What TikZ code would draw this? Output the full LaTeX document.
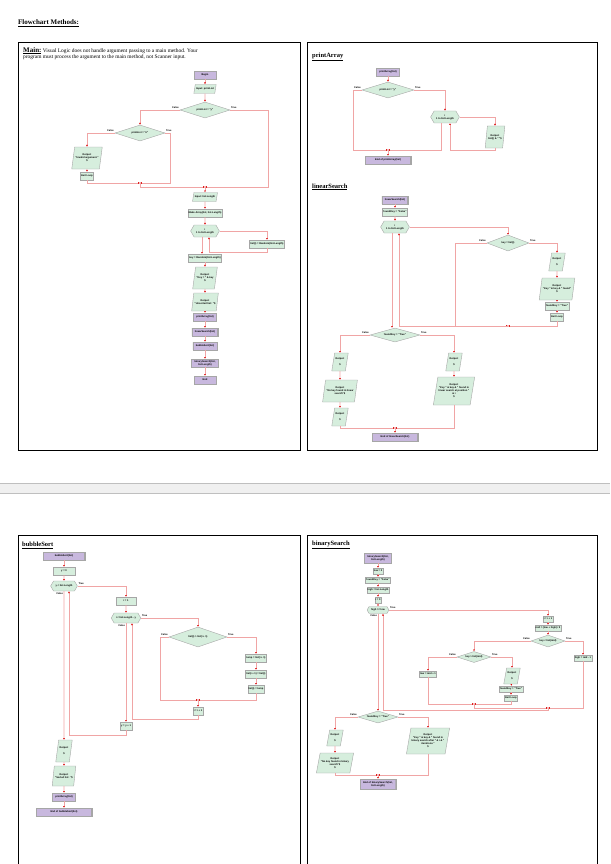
\documentclass[tikz,border=0pt]{standalone}
\usepackage{fontspec}
\setmainfont{Liberation Serif}
\newfontfamily\vlfont{Liberation Sans}
\usetikzlibrary{shapes.geometric,shapes.symbols,arrows.meta}
\definecolor{vlgreen}{RGB}{214,238,221}
\definecolor{vlpurple}{RGB}{200,184,222}
\definecolor{vlred}{RGB}{240,165,165}
\newcommand{\vlsize}{\vlfont\bfseries\fontsize{2.5}{3}\selectfont}

\tikzset{
  blk/.style={draw=black!35, fill=vlgreen, font=\vlsize, inner sep=0.8pt,
    align=center, minimum height=8pt},
  proc/.style={blk, rectangle},
  term/.style={blk, rectangle, fill=vlpurple, minimum width=22pt},
  sub/.style={blk, rectangle, fill=vlpurple, inner xsep=3pt,
    path picture={
      \draw[line width=1.3pt] (path picture bounding box.north west) -- (path picture bounding box.south west);
      \draw[line width=1.3pt] (path picture bounding box.north east) -- (path picture bounding box.south east);}},
  io/.style={blk, trapezium, trapezium left angle=75, trapezium right angle=105,
    trapezium stretches=true, minimum height=18pt, inner ysep=1.5pt},
  dec/.style={blk, diamond, aspect=3.2, inner sep=0pt, minimum width=50pt, minimum height=16pt},
  loop/.style={blk, signal, signal to=west and east, signal pointer angle=120,
    inner xsep=2pt, minimum height=12pt},
  flow/.style={draw=vlred, line width=0.8pt, -{Latex[length=1.8pt,width=1.8pt,color=red!85!black]}},
  tf/.style={font=\vlsize, inner sep=0.6pt},
  box/.style={draw=black, line width=0.8pt},
  head/.style={anchor=west, font=\bfseries\fontsize{6.5}{7}\selectfont, inner sep=0pt}
}

\begin{document}
\begin{tikzpicture}[x=1pt,y=-1pt]
\useasboundingbox (0,0) rectangle (610,864);

% page frame
\node[anchor=west, inner sep=0pt, font=\bfseries\fontsize{7}{8}\selectfont] (title) at (18,23) {\underline{Flowchart Methods:}};
\draw[box] (18,42) rectangle (300,450);
\draw[box] (307,42) rectangle (597,450);
\fill[gray!12] (0,483) rectangle (610,493);
\draw[gray!50, line width=0.6pt] (0,483) -- (610,483) (0,493) -- (610,493);
\draw[box] (18,535) rectangle (300,866);
\draw[box] (307,535) rectangle (597,866);

% Main
\node[anchor=north west, inner sep=0pt, align=left, font=\fontsize{5.4}{6.4}\selectfont] (mText) at (23,47)
  {{\fontsize{7}{7}\selectfont\bfseries\underline{Main:}} Visual Logic does not handle argument passing to a main method. Your\\program must process the argument to the main method, not Scanner input.};
\node[term] (mBegin) at (205,75) {Begin};
\node[io, minimum height=9pt] (mIn) at (205,89) {Input: printList};
\node[dec] (mD1) at (205,110) {printList = "y"};
\node[dec] (mD2) at (140,133) {printList = "n"};
\node[io, minimum height=22pt] (mOut) at (87,158) {Output:\\"Invalid argument."\\\$};
\node[proc] (mExit) at (87,176) {Exit Loop};
\coordinate (mM2) at (140,183);
\coordinate (mR2) at (170,183);
\coordinate (mM1) at (205,187);
\coordinate (mR1) at (268,187);
\node[io, minimum height=9pt] (mInLen) at (205,197) {Input: list.Length};
\node[proc] (mMake) at (205,213) {Make Array(list, list.Length)};
\node[loop] (mFor) at (205,231) {i\\1 to list.Length};
\node[proc] (mRand) at (267,244) {list(i) = Random(list.Length)};
\coordinate (mRet) at (209,252);
\node[proc] (mKey) at (205,258) {key = Random(list.Length)};
\node[io, minimum height=22pt] (mOutKey) at (205,278) {Output:\\"Key = " \& key\\\$};
\node[io] (mOutUns) at (205,302) {Output:\\"Unsorted list: "\$};
\node[sub] (mPA) at (205,317) {printArray(list)};
\node[sub] (mLS) at (205,332) {linearSearch(list)};
\node[sub] (mBS) at (205,346) {bubbleSort(list)};
\node[sub] (mBin) at (205,363) {binarySearch(list,\\list.Length)};
\node[term] (mEnd) at (205,380) {End};

\draw[flow] (mBegin) -- (mIn);
\draw[flow] (mIn) -- (mD1);
\draw[flow] (mD1.west) node[tf, above left] {False} -| (mD2.north);
\draw[flow] (mD1.east) node[tf, above right] {True} -| (mR1) -- (mM1);
\draw[flow] (mD2.west) node[tf, above left] {False} -| (mOut.north);
\draw[flow] (mD2.east) node[tf, above right] {True} -| (mR2) -- (mM2);
\draw[flow] (mOut) -- (mExit);
\draw[flow] (mExit.south) |- (mM2);
\draw[flow] (mM2) |- (mM1);
\draw[flow] (mM1) -- (mInLen);
\draw[flow] (mInLen) -- (mMake);
\draw[flow] (mMake) -- (mFor);
\draw[flow] (mFor.east) -| (mRand.north);
\draw[flow] (mRand.south) |- (mRet) -- (mRet |- mFor.south);
\draw[flow] ([xshift=-3pt]mFor.south) -- ([xshift=-3pt]mKey.north);
\draw[flow] (mKey) -- (mOutKey);
\draw[flow] (mOutKey) -- (mOutUns);
\draw[flow] (mOutUns) -- (mPA);
\draw[flow] (mPA) -- (mLS);
\draw[flow] (mLS) -- (mBS);
\draw[flow] (mBS) -- (mBin);
\draw[flow] (mBin) -- (mEnd);

% printArray
\node[head] (pHead) at (312,57) {\underline{printArray}};
\node[sub] (pStart) at (388,72) {printArray(list)};
\node[dec, minimum width=52pt] (pD) at (388,90) {printList = "y"};
\node[loop] (pFor) at (445,117) {i\\1 to list.Length};
\node[io, minimum height=22pt] (pOut) at (495,137) {Output:\\list(i) \& " "\$};
\coordinate (pL) at (353,150);
\coordinate (pM) at (388,150);
\coordinate (pRet) at (450,150);
\node[sub, minimum width=46pt] (pEnd) at (388,160) {End of printArray(list)};

\draw[flow] (pStart) -- (pD);
\draw[flow] (pD.west) node[tf, above left] {False} -| (pL) -- (pM);
\draw[flow] (pD.east) node[tf, above right] {True} -| (pFor.north);
\draw[flow] (pFor.east) -| (pOut.north);
\draw[flow] (pOut.south) |- (pRet) -- (pRet |- pFor.south);
\draw[flow] ([xshift=-4pt]pFor.south) |- (pM);
\draw[flow] (pM) -- (pEnd);

% linearSearch
\node[head] (lHead) at (312,187) {\underline{linearSearch}};
\node[sub] (lStart) at (395,200) {linearSearch(list)};
\node[proc] (lF) at (395,212) {foundKey = "False"};
\node[loop] (lFor) at (395,227) {i\\1 to list.Length};
\node[dec, minimum width=42pt] (lD) at (508,243) {key = list(i)};
\node[io] (lO1) at (557,262) {Output:\\ \\\$};
\node[io, minimum height=22pt] (lO2) at (557,289) {Output:\\"Key " \& key \& " found"\\\$};
\node[proc] (lT) at (557,306) {foundKey = "True"};
\node[proc] (lX) at (557,317) {Exit Loop};
\coordinate (lL) at (455,326);
\coordinate (lM) at (508,326);
\coordinate (lRet) at (399,326);
\node[dec, minimum width=50pt, minimum height=14pt] (lD2) at (395,335) {foundKey = "True"};
\node[io] (lN1) at (340,362) {Output:\\ \\\$};
\node[io, minimum height=22pt] (lN2) at (340,391) {Output:\\"No key found in linear\\search"\$};
\node[io] (lN3) at (340,417) {Output:\\ \\\$};
\node[io] (lY1) at (454,362) {Output:\\ \\\$};
\node[io, minimum height=28pt] (lY2) at (454,391) {Output:\\"Key " \& key \& " found in\\linear search at position "\\\& i\\\$};
\coordinate (lM2) at (395,428);
\node[sub, minimum width=46pt] (lEnd) at (395,437) {End of linearSearch(list)};

\draw[flow] (lStart) -- (lF);
\draw[flow] (lF) -- (lFor);
\draw[flow] (lFor.east) -| (lD.north);
\draw[flow] (lD.west) node[tf, above left] {False} -| (lL) -- (lM);
\draw[flow] (lD.east) node[tf, above right] {True} -| (lO1.north);
\draw[flow] (lO1) -- (lO2);
\draw[flow] (lO2) -- (lT);
\draw[flow] (lT) -- (lX);
\draw[flow] (lX.south) |- (lM);
\draw[flow] (lM) -- (lRet) -- (lRet |- lFor.south);
\draw[flow] ([xshift=-3pt]lFor.south) -- ([xshift=-3pt]lD2.north);
\draw[flow] (lD2.west) node[tf, above left] {False} -| (lN1.north);
\draw[flow] (lD2.east) node[tf, above right] {True} -| (lY1.north);
\draw[flow] (lN1) -- (lN2);
\draw[flow] (lN2) -- (lN3);
\draw[flow] (lY1) -- (lY2);
\draw[flow] (lN3.south) |- (lM2);
\draw[flow] (lY2.south) |- (lM2);
\draw[flow] (lM2) -- (lEnd);

% bubbleSort
\node[head] (bHead) at (22,545) {\underline{bubbleSort}};
\node[sub, minimum width=42pt] (bStart) at (64,556) {bubbleSort(list)};
\node[proc, minimum width=22pt] (bY0) at (64,571) {y = 0};
\node[loop, minimum height=10pt] (bFor1) at (64,586) {y < list.Length};
\node[proc, minimum width=20pt] (bI1) at (126,601) {i = 1};
\node[loop, minimum height=10pt] (bFor2) at (126,618) {i < list.Length - y};
\node[dec, minimum width=58pt, minimum height=20pt] (bD) at (198,637) {list(i) > list(i + 1)};
\node[proc] (bT1) at (256,658) {temp = list(i + 1)};
\node[proc] (bT2) at (256,674) {list(i + 1) = list(i)};
\node[proc] (bT3) at (256,689) {list(i) = temp};
\coordinate (bL) at (160,700);
\coordinate (bM) at (198,700);
\node[proc] (bInc) at (198,711) {i = i + 1};
\coordinate (bRet2) at (132,719);
\node[proc] (bYInc) at (126,726) {y = y + 1};
\coordinate (bRet1) at (69,735);
\node[io, minimum height=22pt] (bO1) at (64,751) {Output:\\ \\\$};
\node[io, minimum height=20pt] (bO2) at (64,776) {Output:\\"Sorted list: "\$};
\node[sub] (bPA) at (64,797) {printArray(list)};
\node[sub, minimum width=56pt] (bEnd) at (64,812) {End of bubbleSort(list)};

\draw[flow] (bStart) -- (bY0);
\draw[flow] (bY0) -- (bFor1);
\draw[flow] (bFor1.east) node[tf, above right] {True} -| (bI1.north);
\draw[flow] (bFor1.south) node[tf, below left] {False} -- (bO1.north);
\draw[flow] (bI1) -- (bFor2);
\draw[flow] (bFor2.east) node[tf, above right] {True} -| (bD.north);
\draw[flow] (bFor2.south) node[tf, below left] {False} -- (bYInc.north);
\draw[flow] (bD.west) node[tf, above left] {False} -| (bL) -- (bM);
\draw[flow] (bD.east) node[tf, above right] {True} -| (bT1.north);
\draw[flow] (bT1) -- (bT2);
\draw[flow] (bT2) -- (bT3);
\draw[flow] (bT3.south) |- (bM);
\draw[flow] (bM) -- (bInc);
\draw[flow] (bInc.south) |- (bRet2) -- (bRet2 |- bFor2.south);
\draw[flow] (bYInc.south) |- (bRet1) -- (bRet1 |- bFor1.south);
\draw[flow] (bO1) -- (bO2);
\draw[flow] (bO2) -- (bPA);
\draw[flow] (bPA) -- (bEnd);

% binarySearch
\node[head] (sHead) at (312,545) {\underline{binarySearch}};
\node[sub, minimum height=10pt] (sStart) at (378,558) {binarySearch(list,\\list.Length)};
\node[proc, minimum height=6pt] (sLow) at (378,571) {low = 0};
\node[proc, minimum height=6pt] (sF) at (378,580) {foundKey = "False"};
\node[proc, minimum height=6pt] (sHigh) at (378,590) {high = list.Length};
\node[proc, minimum height=6pt] (sI) at (378,600) {i = 0};
\node[loop, minimum height=7pt] (sWh) at (378,610) {high >= low};
\node[proc, minimum height=6pt] (sInc) at (548,619) {i = i + 1};
\node[proc, minimum height=6pt] (sMid) at (548,628) {mid = (low + high) / 2};
\node[dec, minimum width=34pt, minimum height=12pt] (sD1) at (548,641) {key < list(mid)};
\node[dec, minimum width=34pt, minimum height=11pt] (sD2) at (474,657) {key > list(mid)};
\node[proc, minimum height=6pt] (sHi) at (583,658) {high = mid - 1};
\node[proc, minimum height=6pt] (sLo) at (428,674) {low = mid + 1};
\node[io, minimum height=16pt] (sO) at (512,676) {Output:\\ \\\$};
\node[proc, minimum height=6pt] (sT) at (511,689) {foundKey = "True"};
\node[proc, minimum height=6pt] (sX) at (511,698) {Exit Loop};
\coordinate (sM2) at (474,704);
\coordinate (sM1) at (548,708);
\coordinate (sRet) at (383,710);
\node[dec, minimum width=40pt, minimum height=12pt] (sD3) at (378,717) {foundKey = "True"};
\node[io, minimum height=16pt] (sN1) at (335,738) {Output:\\ \\\$};
\node[io, minimum height=20pt] (sN2) at (335,763) {Output:\\"No key found in binary\\search"\$\\\$};
\node[io, minimum height=26pt] (sY) at (428,741) {Output:\\"Key " \& key \& " found in\\binary search after " \& i \& "\\iterations."\\\$};
\coordinate (sM3) at (378,775);
\node[sub, minimum height=10pt] (sEnd) at (378,784) {End of binarySearch(list,\\list.Length)};

\draw[flow] (sStart) -- (sLow);
\draw[flow] (sLow) -- (sF);
\draw[flow] (sF) -- (sHigh);
\draw[flow] (sHigh) -- (sI);
\draw[flow] (sI) -- (sWh);
\draw[flow] (sWh.east) node[tf, above right] {True} -| (sInc.north);
\draw[flow] (sInc) -- (sMid);
\draw[flow] (sMid) -- (sD1);
\draw[flow] (sD1.west) node[tf, above left] {False} -| (sD2.north);
\draw[flow] (sD1.east) node[tf, above right] {True} -| (sHi.north);
\draw[flow] (sD2.west) node[tf, above left] {False} -| (sLo.north);
\draw[flow] (sD2.east) node[tf, above right] {True} -| (sO.north);
\draw[flow] (sO) -- (sT);
\draw[flow] (sT) -- (sX);
\draw[flow] (sLo.south) |- (sM2);
\draw[flow] (sX.south) |- (sM2);
\draw[flow] (sM2) |- (sM1);
\draw[flow] (sHi.south) |- (sM1);
\draw[flow] (sM1) |- (sRet) -- (sRet |- sWh.south);
\draw[flow] (sWh.south) node[tf, below left] {False} -- (sD3.north);
\draw[flow] (sD3.west) node[tf, above left] {False} -| (sN1.north);
\draw[flow] (sD3.east) node[tf, above right] {True} -| (sY.north);
\draw[flow] (sN1) -- (sN2);
\draw[flow] (sN2.south) |- (sM3);
\draw[flow] (sY.south) |- (sM3);
\draw[flow] (sM3) -- (sEnd);
\end{tikzpicture}
\end{document}
